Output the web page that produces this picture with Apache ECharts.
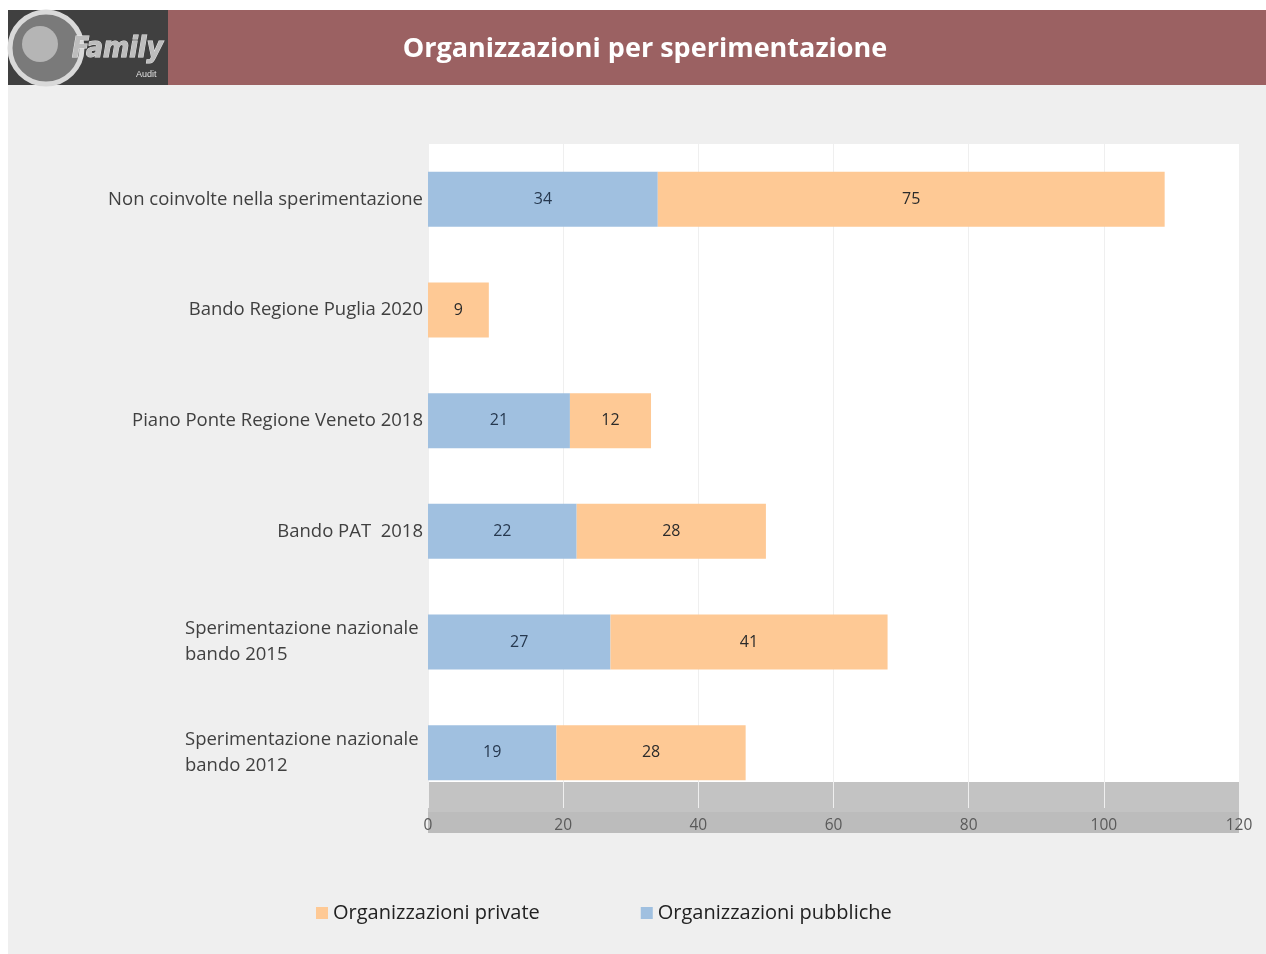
<!DOCTYPE html>
<html>
<head>
<meta charset="utf-8">
<title>Organizzazioni per sperimentazione</title>
<script src="https://cdn.jsdelivr.net/npm/echarts@6/dist/echarts.min.js"></script>
<style>
  html, body { margin: 0; padding: 0; background: #ffffff; }
  #chart { width: 1266px; height: 954px; }
</style>
</head>
<body>
<div id="chart"></div>
<script>
// categories, top to bottom
const categories = [
  'Non coinvolte nella sperimentazione',
  'Bando Regione Puglia 2020',
  'Piano Ponte Regione Veneto 2018',
  'Bando PAT  2018',
  'Sperimentazione nazionale\nbando 2015',
  'Sperimentazione nazionale\nbando 2012'
]
const pubbliche = [34, 0, 21, 22, 27, 19]
const private_ = [75, 9, 12, 28, 41, 28]
const xTicks = [0, 20, 40, 60, 80, 100, 120]

const chart = echarts.init(document.getElementById('chart'))
const font = '"Open Sans", "Noto Sans", sans-serif'

function hideZero(p) {
  return p.value ? String(p.value) : ''
}

const option = {
  backgroundColor: '#ffffff',
  animation: false,
  textStyle: { fontFamily: font },
  graphic: [
    // slide background
    { type: 'rect', z: -10, shape: { x: 8, y: 10, width: 1258, height: 944 }, style: { fill: '#efefef' } },
    // header
    { type: 'rect', z: -9, shape: { x: 168, y: 10, width: 1098, height: 75 }, style: { fill: '#9b6162' } },
    { type: 'rect', z: -9, shape: { x: 8, y: 10, width: 160, height: 75 }, style: { fill: '#404040' } },
    { type: 'circle', z: -8, shape: { cx: 46, cy: 48, r: 36 }, style: { fill: '#7a7a7a', stroke: '#d9d9d9', lineWidth: 5 } },
    { type: 'circle', z: -8, shape: { cx: 40, cy: 44, r: 18 }, style: { fill: '#b5b5b5' } },
    {
      type: 'text', z: -7, x: 72, y: 36,
      style: { text: 'Family', fill: '#bdbdbd', stroke: '#e6e6e6', lineWidth: 1, font: 'bold italic 28px "DejaVu Sans Condensed", sans-serif' }
    },
    {
      type: 'text', z: -7, x: 136, y: 70,
      style: { text: 'Audit', fill: '#e0e0e0', font: '9px sans-serif' }
    },
    {
      type: 'text', z: -7, x: 645, y: 49,
      style: { text: 'Organizzazioni per sperimentazione', fill: '#ffffff', font: 'bold 27px ' + font, align: 'center', verticalAlign: 'middle' }
    },
    // plot area
    { type: 'rect', z: -9, shape: { x: 428, y: 144, width: 811, height: 638 }, style: { fill: '#ffffff' } },
    { type: 'rect', z: -9, shape: { x: 428, y: 782, width: 811, height: 30 }, style: { fill: '#c3c3c3' } },
    { type: 'rect', z: -9, shape: { x: 428, y: 812, width: 811, height: 21 }, style: { fill: '#bcbcbc' } }
  ],
  legend: {
    data: ['Organizzazioni private', 'Organizzazioni pubbliche'],
    left: 311,
    top: 898,
    icon: 'rect',
    itemWidth: 12,
    itemHeight: 12,
    itemGap: 101,
    textStyle: { fontSize: 20, color: '#222222', fontFamily: font }
  },
  grid: {
    left: 428,
    right: 27,
    top: 144,
    height: 664,
    containLabel: false
  },
  xAxis: {
    type: 'value',
    min: xTicks[0],
    max: xTicks[xTicks.length - 1],
    interval: 20,
    axisLine: { show: false },
    axisTick: { show: false },
    axisLabel: { margin: 10, color: '#5a5a5a', fontSize: 15.5, fontFamily: font },
    splitLine: { lineStyle: { color: '#efefef', width: 1 } }
  },
  yAxis: {
    type: 'category',
    inverse: true,
    data: categories,
    axisLine: { show: false },
    axisTick: { show: false },
    axisLabel: {
      margin: 5,
      color: '#404040',
      fontSize: 18.5,
      fontFamily: font,
      lineHeight: 26,
      formatter: function (v) {
        if (v.indexOf('\n') < 0) return v
        return v.split('\n').map(s => '{w|' + s + '}').join('\n')
      },
      rich: {
        w: { width: 238, align: 'left', fontSize: 18.5, color: '#404040', lineHeight: 26, fontFamily: font }
      }
    }
  },
  series: [
    {
      name: 'Organizzazioni pubbliche',
      type: 'bar',
      stack: 'total',
      barWidth: 55,
      data: pubbliche,
      itemStyle: { color: '#a0c0e0' },
      label: { show: true, position: 'inside', color: '#26384f', fontSize: 16, formatter: hideZero }
    },
    {
      name: 'Organizzazioni private',
      type: 'bar',
      stack: 'total',
      barWidth: 55,
      data: private_,
      itemStyle: { color: '#fec995' },
      label: { show: true, position: 'inside', color: '#2b2b2b', fontSize: 16, formatter: hideZero }
    }
  ]
}

chart.setOption(option)
</script>
</body>
</html>
